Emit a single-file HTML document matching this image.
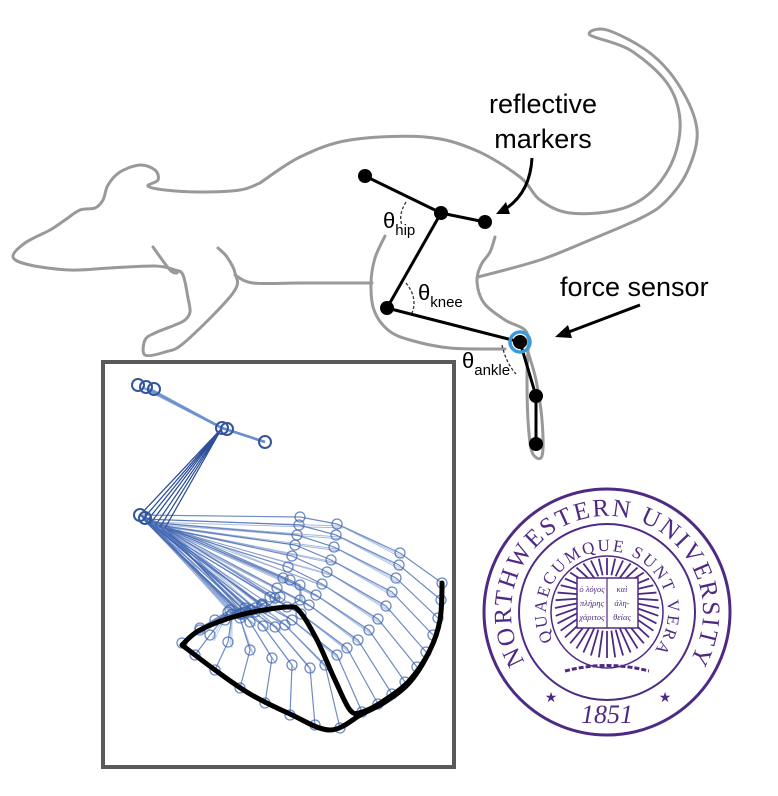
<!DOCTYPE html>
<html><head><meta charset="utf-8"><style>
html,body{margin:0;padding:0;background:#fff}
svg{display:block}
</style></head><body>
<svg id="fig" width="778" height="796" viewBox="0 0 778 796" xmlns="http://www.w3.org/2000/svg">
<g id="rat" fill="none" stroke="#999" stroke-width="3" stroke-linejoin="round" stroke-linecap="round"></g>
<g>
<path d="M406,202 Q398,215 402,225" fill="none" stroke="#333" stroke-width="1.3" stroke-dasharray="3,2"/>
<path d="M406,283 Q418,298 412,313" fill="none" stroke="#333" stroke-width="1.3" stroke-dasharray="3,2"/>
<path d="M502,345 Q506,363 516,374" fill="none" stroke="#333" stroke-width="1.3" stroke-dasharray="3,2"/>
<polyline points="365,176 441,213 485,222 441,213 387,308 520,342 536,396 536,444" fill="none" stroke="#000" stroke-width="3" stroke-linejoin="round"/>
<circle cx="520" cy="342" r="10" fill="none" stroke="#3a9ad9" stroke-width="3.5"/>
<circle cx="365" cy="176" r="7"/>
<circle cx="441" cy="213" r="7"/>
<circle cx="485" cy="222" r="7"/>
<circle cx="387" cy="308" r="7"/>
<circle cx="520" cy="342" r="7"/>
<circle cx="536" cy="396" r="7"/>
<circle cx="536" cy="444" r="7"/>
</g>
<g font-family="'Liberation Sans', 'DejaVu Sans', sans-serif" fill="#000">
<text x="543" y="113" font-size="27" text-anchor="middle">reflective</text>
<text x="543" y="148" font-size="27" text-anchor="middle">markers</text>
<text x="560" y="296" font-size="27">force sensor</text>
<text x="383" y="228" font-size="22">θ<tspan font-size="15" dy="7">hip</tspan></text>
<text x="418" y="300" font-size="22">θ<tspan font-size="15" dy="7">knee</tspan></text>
<text x="462" y="368" font-size="22">θ<tspan font-size="15" dy="7">ankle</tspan></text>
</g>
<path d="M532,158 Q530,195 502,211" fill="none" stroke="#000" stroke-width="3"/>
<polygon points="496,214 506,202 510,214" fill="#000"/>
<line x1="640" y1="305" x2="566" y2="333" stroke="#000" stroke-width="3"/>
<polygon points="555,337 568,325 572,338" fill="#000"/>
<rect x="103" y="362" width="351" height="405" fill="#fff" stroke="#595959" stroke-width="4"/>
<g id="kin"></g>
<g id="seal" fill="none" stroke="#4e2a84">
<circle cx="607" cy="612" r="123" stroke-width="3"/>
<circle cx="607" cy="612" r="88" stroke-width="2"/>
<circle cx="607" cy="612" r="56" stroke-width="1.5"/>
<defs>
<path id="arcOuter" d="M607,708 A96,96 0 1 1 607,516 A96,96 0 1 1 607,708"/>
<path id="arcInner" d="M607,673 A61,61 0 1 1 607,551 A61,61 0 1 1 607,673"/>
</defs>
<g id="rays" stroke-width="1.8"></g>
<rect x="577" y="578" width="61" height="50" fill="#fff" stroke-width="1.5"/>
<line x1="607" y1="578" x2="607" y2="628" stroke-width="1.2"/>
<g fill="#4e2a84" stroke="none" font-family="'Liberation Serif', 'DejaVu Serif', serif">
<text font-size="25"><textPath href="#arcOuter" startOffset="98" textLength="405" lengthAdjust="spacing">NORTHWESTERN UNIVERSITY</textPath></text>
<text font-size="17"><textPath href="#arcInner" startOffset="66" textLength="262" lengthAdjust="spacing">QUAECUMQUE SUNT VERA</textPath></text>
<text x="592" y="592" font-size="8.5" text-anchor="middle" font-style="italic">ὁ λόγος</text>
<text x="622" y="592" font-size="8.5" text-anchor="middle" font-style="italic">καὶ</text>
<text x="592" y="606" font-size="8.5" text-anchor="middle" font-style="italic">πλήρης</text>
<text x="622" y="606" font-size="8.5" text-anchor="middle" font-style="italic">ἀλη-</text>
<text x="592" y="620" font-size="8.5" text-anchor="middle" font-style="italic">χάριτος</text>
<text x="622" y="620" font-size="8.5" text-anchor="middle" font-style="italic">θείας</text>
<text x="607" y="723" font-size="26" text-anchor="middle" font-style="italic">1851</text>
<text x="551" y="702" font-size="14" text-anchor="middle">★</text>
<text x="665" y="702" font-size="14" text-anchor="middle">★</text>
</g>
<path d="M565,671 Q607,660 649,671" stroke-width="3" stroke-dasharray="5,2"/>
</g>
</svg>
<script>
// stick-figure data (pixel-space readings of the digitised frames)
const kneeX=[300,299,297,295,292,288,283,277,270,262,255,250,246,243,241,240,242,246,252,262,275,290];
const kneeY=[517,525,535,545,556,567,578,588,597,604,608,610,612,613,614,614,613,612,610,606,598,580];
const ankleX=[337,336,334,331,327,322,316,309,301,292,285,275,263,250,240,232,228,230,245,262,280,300];
const ankleY=[524,535,547,560,572,584,595,605,614,620,625,627,626,622,618,614,612,610,608,605,597,585];
const mtpX=[400,399,396,392,386,378,369,358,347,337,325,310,292,272,250,228,210,200,215,240,265,300];
const mtpY=[553,565,578,592,606,619,630,640,648,655,665,668,665,658,650,642,635,628,620,614,608,600];
const toeX=[442,441,438,433,426,417,405,392,378,362,340,315,290,265,240,215,195,182,200,225,255,287];
const toeY=[583,600,618,635,652,667,682,694,704,712,728,725,715,703,688,670,655,643,630,620,612,607];
const pathX=[182,200,240,287,300,317,335,350,362,385,410,430,440,442,440,430,410,385,362,330,290,250,215,182];
const pathY=[645,630,615,607,612,640,680,710,712,700,680,650,620,583,620,650,682,702,714,730,714,694,670,645];
const hipX=[140,143,146,150,155,160,165];
const hipY=[515,519,522,524,526,527,528];
const crestX=[142,147,152], crestY=[387,388,390];
const NS='http://www.w3.org/2000/svg';

const ratParts=[
 [[260,183],[240,190],[200,192],[165,190],[148,186],[158,180],[155,170],[140,165],[120,172],[108,185],[103,200],[95,208],[80,210],[65,220],[50,230],[25,243],[13,257],[30,265],[70,270],[110,268],[155,266],[175,270],[183,275],[188,298],[190,312],[185,320],[175,325],[155,333],[145,340],[145,355],[165,352],[185,342],[233,293],[235,273],[227,257],[218,248]],
 [[153,247],[170,270],[177,273]],
 [[235,275],[253,283],[300,283],[372,283]],
 [[260,183],[300,157],[350,140],[425,137],[475,150],[520,177],[540,200],[570,213],[617,210],[650,193],[673,160],[680,120],[667,83],[630,50],[590,35],[607,30],[650,53],[680,87],[697,130],[688,170],[667,200],[643,217],[590,240],[540,260],[478,277]],
 [[385,236],[375,258],[371,283],[374,310],[388,330],[410,340],[450,348],[505,349]],
 [[495,237],[490,252],[481,265],[477,282],[484,303],[505,320],[525,330],[528,345],[527,375],[528,420],[532,452],[542,456],[542,420],[536,380],[528,352]]
];
function smooth(p){let d=`M${p[0][0]},${p[0][1]}`;for(let i=0;i<p.length-1;i++){const p0=p[i-1]||p[i],p1=p[i],p2=p[i+1],p3=p[i+2]||p2;d+=` C${p1[0]+(p2[0]-p0[0])/6},${p1[1]+(p2[1]-p0[1])/6} ${p2[0]-(p3[0]-p1[0])/6},${p2[1]-(p3[1]-p1[1])/6} ${p2[0]},${p2[1]}`;}return d;}
const rat=document.getElementById('rat');
ratParts.forEach(p=>{const e=document.createElementNS(NS,'path');e.setAttribute('d',smooth(p));


rat.appendChild(e);});

const kin=document.getElementById('kin');
function mk(t,a){const e=document.createElementNS(NS,t);for(const k in a)e.setAttribute(k,a[k]);kin.appendChild(e);return e;}
for(let i=0;i<crestX.length;i++){
  const l=mk('polyline',{points:`${crestX[i]},${crestY[i]} 222,428 265,442`,fill:'none',stroke:'#6a8fd0','stroke-width':2.5,opacity:0.8});
  
  
}
for(let i=0;i<kneeX.length;i++){
  const h=i%hipX.length;
  for(let k=0;k<2;k++){
    const l=mk('line',{x1:222,y1:428,x2:hipX[(h+k*3)%hipX.length],y2:hipY[(h+k*3)%hipX.length],stroke:'#2f5199','stroke-width':1,opacity:0.6});
    
    
  }
  const p=mk('polyline',{points:`${hipX[h]},${hipY[h]} ${kneeX[i]},${kneeY[i]} ${ankleX[i]},${ankleY[i]} ${mtpX[i]},${mtpY[i]} ${toeX[i]},${toeY[i]}`,fill:'none',stroke:'#3f64ad','stroke-width':1.2,opacity:0.75});
  
  
  for(let k=1;k<3;k++){
    const f=mk('line',{x1:hipX[(h+k)%hipX.length],y1:hipY[(h+k)%hipX.length],x2:ankleX[i]+k*3,y2:ankleY[i]+k*2,stroke:'#4d72bb','stroke-width':0.9,opacity:0.5});
    
    
    const g=mk('line',{x1:ankleX[i],y1:ankleY[i],x2:mtpX[i]+k*2,y2:mtpY[i]+k*3,stroke:'#6a8fd0','stroke-width':0.9,opacity:0.5});
    
    
  }
  [[kneeX[i],kneeY[i]],[ankleX[i],ankleY[i]],[mtpX[i],mtpY[i]],[toeX[i],toeY[i]]].forEach(([x,y])=>{
    const c=mk('circle',{cx:x,cy:y,r:5,fill:'none',stroke:'#3f64ad','stroke-width':1.3,opacity:0.75});
    
    
  });
}
[[138,385],[146,387],[154,389],[222,428],[227,429],[265,442],[140,515],[145,518]].forEach(([x,y])=>{
  const c=mk('circle',{cx:x,cy:y,r:6,fill:'none',stroke:'#34559e','stroke-width':2});
  
  
});
const tp=mk('path',{d:smooth(pathX.map((x,i)=>[x,pathY[i]])),fill:'none',stroke:'#000','stroke-width':5,'stroke-linejoin':'round','stroke-linecap':'round'});


const rays=document.getElementById('rays');
for(let a=0;a<360;a+=9){
  const r=a*Math.PI/180, c=Math.cos(r), s=Math.sin(r);
  const l=document.createElementNS(NS,'line');
  l.setAttribute('x1',607+28*c);l.setAttribute('y1',603+28*s);
  l.setAttribute('x2',607+52*c);l.setAttribute('y2',608+50*s);
  
  
  rays.appendChild(l);
}
</script>
</body></html>
